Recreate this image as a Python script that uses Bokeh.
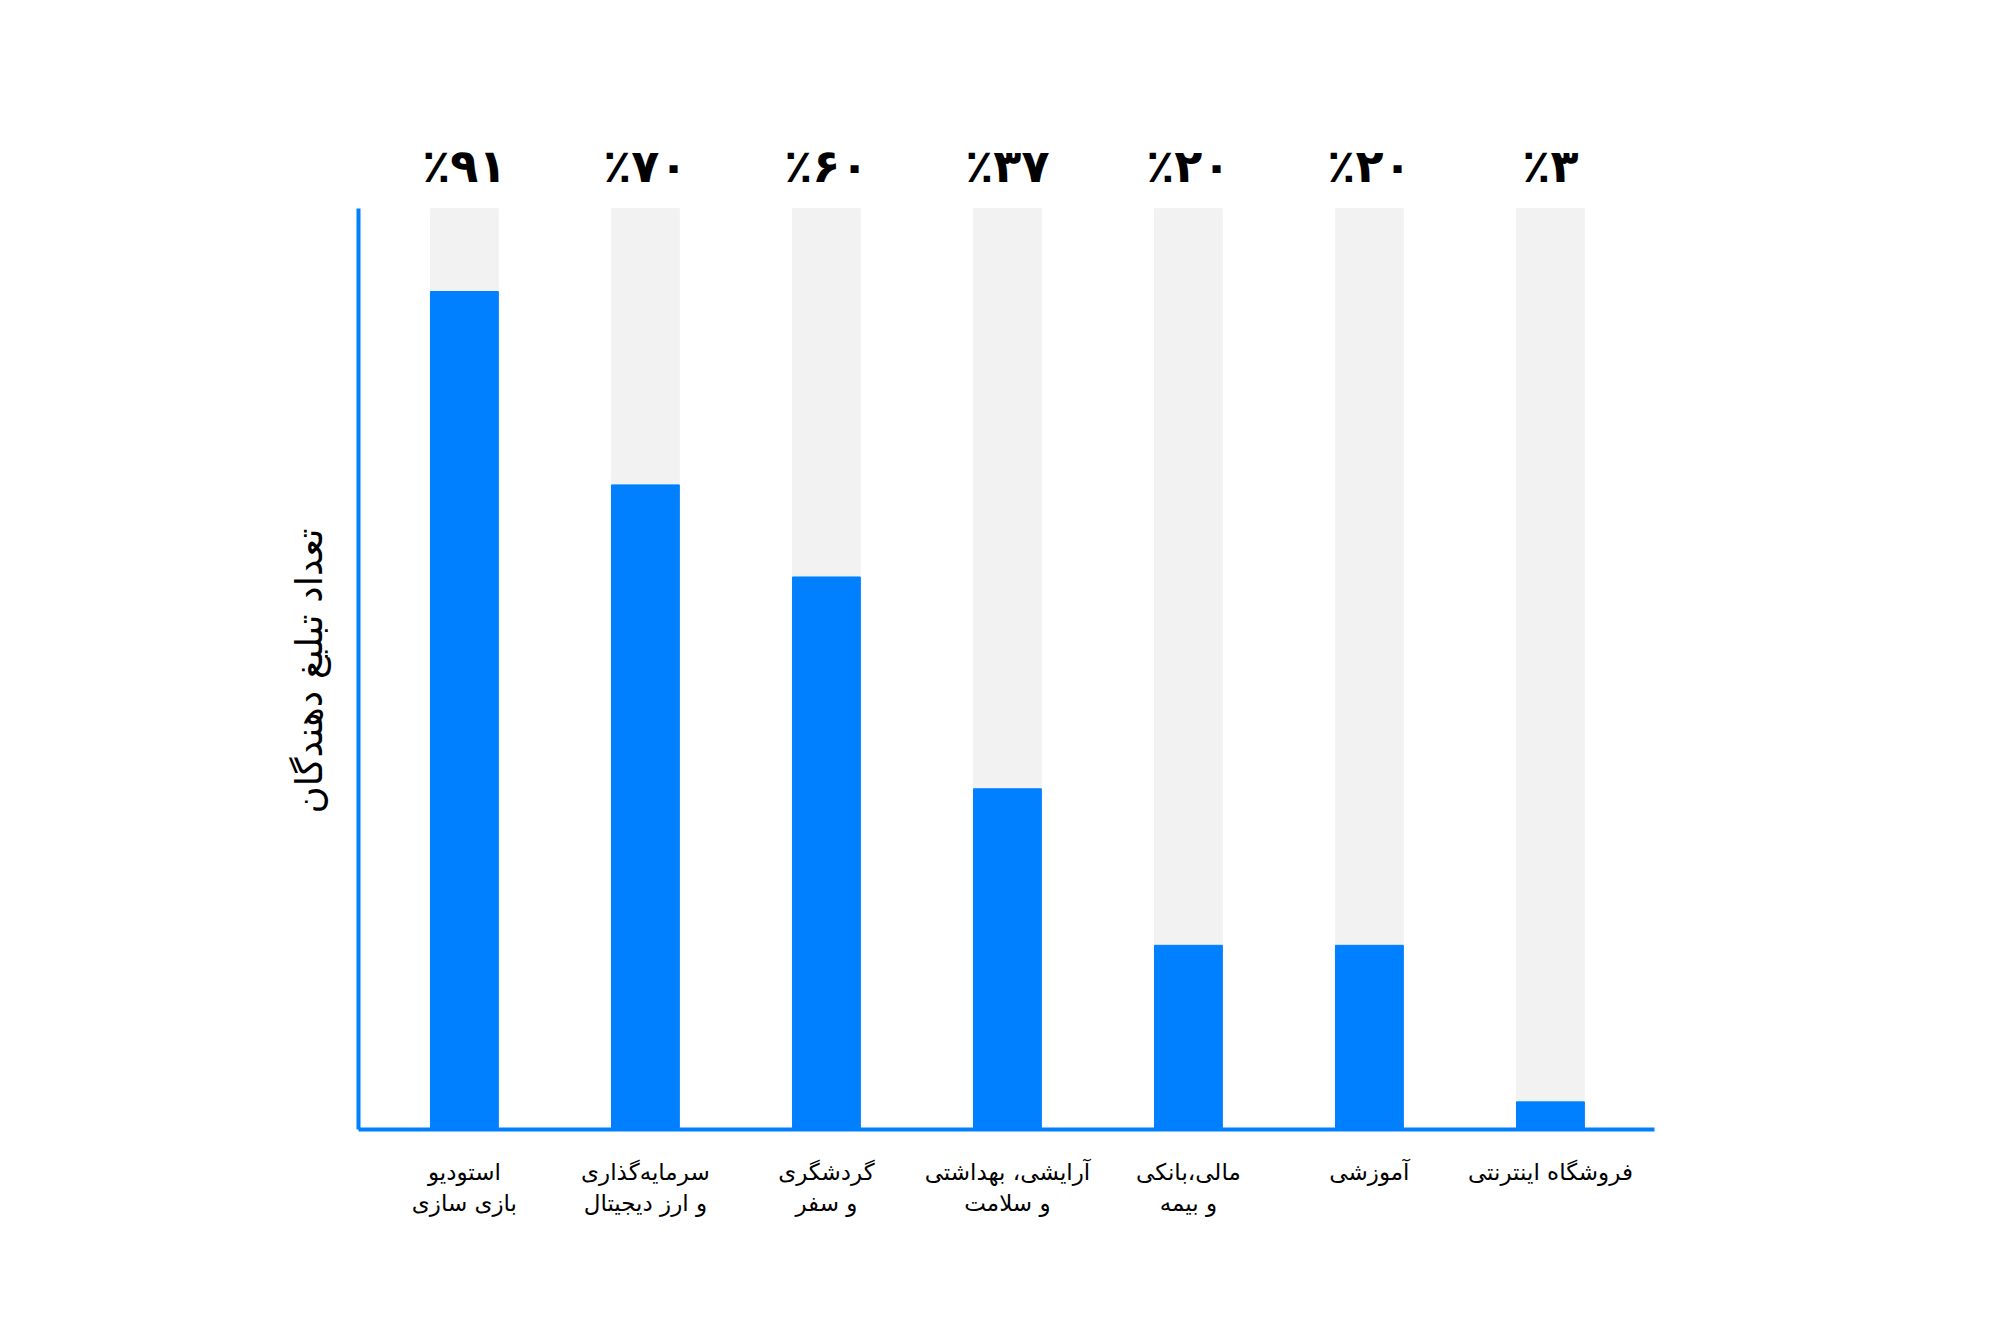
from bokeh.plotting import figure
from bokeh.models import ColumnDataSource, FixedTicker, Range1d, Title
from bokeh.core.properties import value
from bokeh.embed import file_html
from bokeh.resources import INLINE

categories = [
    "استودیو\nبازی سازی",
    "سرمایه‌گذاری\nو ارز دیجیتال",
    "گردشگری\nو سفر",
    "آرایشی، بهداشتی\nو سلامت",
    "مالی،بانکی\nو بیمه",
    "آموزشی",
    "فروشگاه اینترنتی",
]
values = [91, 70, 60, 37, 20, 20, 3]
pct_labels = ["٪۹۱", "٪۷۰", "٪۶۰", "٪۳۷", "٪۲۰", "٪۲۰", "٪۳"]
y_label = "تعداد تبلیغ دهندگان"

BLUE = "#0080FF"
GREY = "#F2F2F2"
FONT = "DejaVu Sans"

xs = list(range(len(categories)))
src = ColumnDataSource(dict(
    x=xs, v=values, full=[100] * len(xs), lab=pct_labels,
    ly=[104.6] * len(xs),
))

p = figure(width=2000, height=1333, output_backend="svg", toolbar_location=None,
           x_range=Range1d(-0.585, 6.575), y_range=Range1d(0, 115),
           min_border_left=358, min_border_right=346,
           min_border_top=70, min_border_bottom=204)
p.outline_line_color = None
p.grid.grid_line_color = None
p.background_fill_color = "white"
p.border_fill_color = "white"

p.vbar(x="x", top="full", bottom=0, width=0.375, color=GREY, source=src)
p.vbar(x="x", top="v", bottom=0, width=0.375, color=BLUE, source=src)
p.text(x="x", y="ly", text="lab", source=src, text_align="center",
       text_baseline="middle", text_font=value(FONT), text_font_style="bold",
       text_font_size="46px", text_color="black")

xa = p.xaxis[0]
xa.ticker = FixedTicker(ticks=xs)
xa.major_label_overrides = {i: c for i, c in enumerate(categories)}
xa.major_tick_line_color = None
xa.minor_tick_line_color = None
xa.axis_line_color = BLUE
xa.axis_line_width = 4
xa.major_label_text_font = FONT
xa.major_label_text_font_size = "23px"
xa.major_label_text_color = "black"
xa.major_label_standoff = 23

ya = p.yaxis[0]
ya.ticker = FixedTicker(ticks=[])
ya.bounds = (0, 100)
ya.major_tick_line_color = None
ya.minor_tick_line_color = None
ya.axis_line_color = BLUE
ya.axis_line_width = 4

p.add_layout(Title(text=y_label, align="left", offset=316, standoff=55,
                   text_font=FONT, text_font_size="37px",
                   text_font_style="normal", text_color="black"), "left")

open("out.html", "w").write(file_html(p, INLINE))
